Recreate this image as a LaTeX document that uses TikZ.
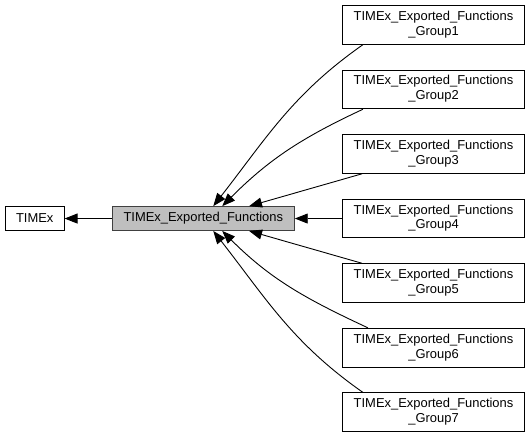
\documentclass[tikz,border=0pt]{standalone}
\usepackage{fontspec}
\setmainfont{Liberation Sans}
\usepackage{tikz}
\usetikzlibrary{matrix,arrows.meta}

\tikzset{
  grp/.style={draw, line width=0.9pt, minimum width=183pt, minimum height=39pt,
    inner sep=2pt},
  dep/.style={-{Triangle[length=13pt,width=10pt]}, line width=0.9pt}
}
\newcommand{\grouplabel}[1]{\begin{tabular}{@{}c@{}}TIMEx\_Exported\_Functions\\\_Group#1\end{tabular}}

\begin{document}
\begin{tikzpicture}[font=\fontsize{13}{15}\selectfont]
  \matrix (m) [matrix of nodes, row sep=25pt, column sep=47.5pt,
    nodes={anchor=center}]
  {
     & & |[grp]| \grouplabel{1} \\
     & & |[grp]| \grouplabel{2} \\
     & & |[grp]| \grouplabel{3} \\
    |[draw, line width=0.9pt, minimum width=59pt, minimum height=24pt]| TIMEx
     & |[draw=black!75, fill=black!25, line width=0.9pt, minimum width=183pt, minimum height=24pt]| TIMEx\_Exported\_Functions
     & |[grp]| \grouplabel{4} \\
     & & |[grp]| \grouplabel{5} \\
     & & |[grp]| \grouplabel{6} \\
     & & |[grp]| \grouplabel{7} \\
  };
  \path[dep]
  (m-4-2) edge (m-4-1)
  ([xshift=21pt]m-1-3.south west) edge[out=215, in=52] ([xshift=10pt]m-4-2.north)
  ([xshift=21pt]m-2-3.south west) edge[out=205, in=45] ([xshift=19pt]m-4-2.north)
  ([xshift=20pt]m-3-3.south west) edge ([xshift=46pt]m-4-2.north)
  (m-4-3) edge (m-4-2)
  ([xshift=20pt]m-5-3.north west) edge ([xshift=46pt]m-4-2.south)
  ([xshift=26pt]m-6-3.north west) edge[out=155, in=-45] ([xshift=19pt]m-4-2.south)
  ([xshift=21pt]m-7-3.north west) edge[out=145, in=-52] ([xshift=10pt]m-4-2.south);
  \coordinate (tl) at (m-4-1.west |- m-1-3.north);
  \useasboundingbox ([shift={(-5pt,5pt)}]tl) rectangle ([shift={(6pt,-6pt)}]m-7-3.south east);
\end{tikzpicture}
\end{document}
